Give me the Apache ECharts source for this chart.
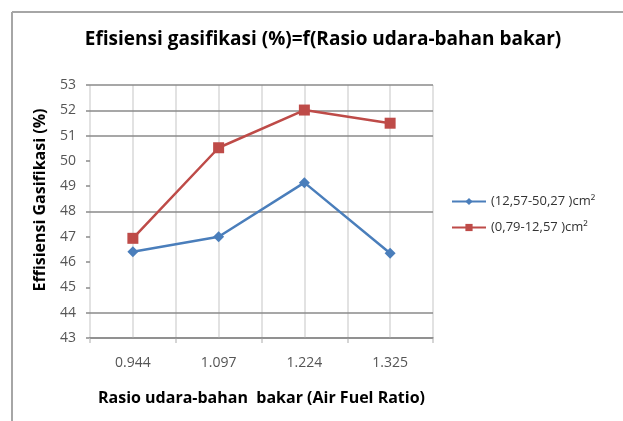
<!DOCTYPE html>
<html>
<head>
<meta charset="utf-8">
<script src="https://cdn.jsdelivr.net/npm/echarts@6/dist/echarts.min.js"></script>
<style>html,body{margin:0;padding:0;background:#fff}#c{width:623px;height:421px}</style>
</head>
<body>
<div id="c"></div>
<script>
var categories = ['0.944', '1.097', '1.224', '1.325'];
var seriesNames = ['(12,57-50,27 )cm²', '(0,79-12,57 )cm²'];
var blueValues = [46.41, 47.0, 49.14, 46.35];
var redValues = [46.94, 50.52, 52.01, 51.49];
var gridValues = [43, 44, 48, 51, 52, 53];

var FONT = 'Open Sans';
var chart = echarts.init(document.getElementById('c'));
chart.setOption({
  animation: false,
  backgroundColor: '#fff',
  title: {
    text: 'Efisiensi gasifikasi (%)=f(Rasio udara-bahan bakar)',
    left: 318, top: 25, textAlign: 'center',
    textStyle: {fontFamily: FONT, fontSize: 19, fontWeight: 'bold', color: '#000'}
  },
  legend: {
    orient: 'vertical', left: 446, top: 190, itemGap: 13,
    itemWidth: 34, itemHeight: 9,
    textStyle: {fontFamily: FONT, fontSize: 13, color: '#333'},
    data: seriesNames
  },
  grid: {left: 90, right: 190, top: 85, bottom: 83, containLabel: false},
  xAxis: {
    type: 'category', data: categories, boundaryGap: true,
    name: 'Rasio udara-bahan  bakar (Air Fuel Ratio)', nameLocation: 'middle', nameGap: 52,
    nameTextStyle: {fontFamily: FONT, fontSize: 16, fontWeight: 'bold', color: '#000'},
    axisLine: {lineStyle: {color: '#8a8a8a', width: 1.5}},
    axisTick: {show: true, length: 5, lineStyle: {color: '#c8c8c8', width: 1.5}},
    axisLabel: {fontFamily: FONT, fontSize: 14, color: '#555', margin: 18},
    splitLine: {show: true, lineStyle: {color: '#d9d9d9', width: 1.5}}
  },
  yAxis: {
    type: 'value', min: 43, max: 53, interval: 1,
    axisLine: {show: false},
    axisTick: {show: true, length: 4, lineStyle: {color: '#8a8a8a', width: 1.5}},
    axisLabel: {fontFamily: FONT, fontSize: 14, color: '#555', margin: 14},
    splitLine: {show: false}
  },
  graphic: [
    {type: 'line', shape: {x1: 12, y1: 12, x2: 623, y2: 12}, style: {stroke: '#a6a6a6', lineWidth: 2}},
    {type: 'line', shape: {x1: 12, y1: 12, x2: 12, y2: 421}, style: {stroke: '#a6a6a6', lineWidth: 2}},
    {type: 'text', x: 40, y: 200, rotation: Math.PI / 2,
     style: {text: 'Effisiensi Gasifikasi (%)', fontFamily: FONT, fontSize: 16, fontWeight: 'bold',
             fill: '#000', textAlign: 'center', textVerticalAlign: 'middle'}}
  ],
  series: [
    {
      name: seriesNames[0], type: 'line', data: blueValues, z: 5,
      symbol: 'diamond', symbolSize: 11,
      lineStyle: {color: '#4a7ebb', width: 2.5},
      itemStyle: {color: '#4a7ebb'},
      markLine: {
        silent: true, symbol: 'none', label: {show: false}, z: 1,
        lineStyle: {color: '#d9d9d9', width: 1.5, type: 'solid'},
        data: categories.map(function (c) { return {xAxis: c}; })
      }
    },
    {
      name: seriesNames[1], type: 'line', data: redValues, z: 5,
      symbol: 'rect', symbolSize: 11,
      lineStyle: {color: '#be4b48', width: 2.5},
      itemStyle: {color: '#be4b48'},
      markLine: {
        silent: true, symbol: 'none', label: {show: false}, z: 2,
        lineStyle: {color: '#8a8a8a', width: 1.5, type: 'solid'},
        data: gridValues.map(function (v) { return {yAxis: v}; })
      }
    }
  ]
});
</script>
</body>
</html>
